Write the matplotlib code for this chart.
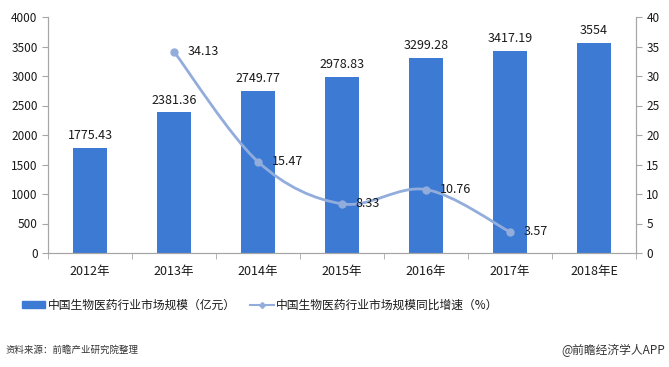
import numpy as np
import matplotlib.pyplot as plt
from matplotlib.path import Path
from matplotlib.patches import PathPatch, Patch
from matplotlib.lines import Line2D

plt.rcParams['font.family'] = ['Noto Sans CJK SC', 'DejaVu Sans']

# data
years = ['2012年', '2013年', '2014年', '2015年', '2016年', '2017年', '2018年E']
market = [1775.43, 2381.36, 2749.77, 2978.83, 3299.28, 3417.19, 3554]
market_labels = ['1775.43', '2381.36', '2749.77', '2978.83', '3299.28', '3417.19', '3554']
growth_idx = [1, 2, 3, 4, 5]
growth = [34.13, 15.47, 8.33, 10.76, 3.57]

bar_color = '#3C7AD3'
line_color = '#92ADDC'
axis_color = '#A6A6A6'
text_color = '#1a1a1a'

fig = plt.figure(figsize=(6.69, 3.67), dpi=100)
ax = fig.add_axes([48 / 669, 1 - 253 / 367, 588 / 669, 236 / 367])
ax2 = ax.twinx()

x = np.arange(len(years))
ax.bar(x, market, width=0.4, color=bar_color, zorder=2)
for xi, v, lab in zip(x, market, market_labels):
    ax.text(xi, v + 100, lab, ha='center', va='bottom', fontsize=9, color=text_color)

ax.set_xlim(-0.5, len(years) - 0.5)
ax.set_ylim(0, 4000)
ax.set_yticks(range(0, 4001, 500))
ax.set_xticks(x)
ax.set_xticklabels(years, fontsize=9, color=text_color)
ax.set_xticks(np.arange(-0.5, len(years), 1), minor=True)
ax.tick_params(axis='x', which='major', length=0, pad=9)
ax.tick_params(axis='x', which='minor', length=4, color=axis_color)
ax.tick_params(axis='y', length=4, color=axis_color, labelsize=8.5, labelcolor=text_color)

ax2.set_ylim(0, 40)
ax2.set_yticks(range(0, 41, 5))
ax2.tick_params(axis='y', length=4, color=axis_color, labelsize=8.5, labelcolor=text_color)

for a in (ax, ax2):
    a.spines['top'].set_visible(False)
    for s in ('left', 'right', 'bottom'):
        a.spines[s].set_color(axis_color)

# smoothed line (cubic bezier through the points)
gx = np.array(growth_idx, dtype=float)
gy = np.array(growth, dtype=float)
verts = [(gx[0], gy[0])]
codes = [Path.MOVETO]
t = 1 / 6
for i in range(len(gx) - 1):
    p0 = (gx[max(i - 1, 0)], gy[max(i - 1, 0)])
    p1 = (gx[i], gy[i])
    p2 = (gx[i + 1], gy[i + 1])
    p3 = (gx[min(i + 2, len(gx) - 1)], gy[min(i + 2, len(gy) - 1)])
    c1 = (p1[0] + (p2[0] - p0[0]) * t, p1[1] + (p2[1] - p0[1]) * t)
    c2 = (p2[0] - (p3[0] - p1[0]) * t, p2[1] - (p3[1] - p1[1]) * t)
    verts += [c1, c2, p2]
    codes += [Path.CURVE4] * 3
ax2.add_patch(PathPatch(Path(verts, codes), fill=False, edgecolor=line_color, lw=2, zorder=3))
ax2.plot(gx, gy, 'o', color=line_color, markersize=5, zorder=4)
for xi, v in zip(gx, gy):
    ax2.text(xi + 0.16, v, f'{v:.2f}', ha='left', va='center', fontsize=9, color=text_color)

# legend
handles = [Patch(color=bar_color),
           Line2D([0], [0], color=line_color, lw=1.5, marker='D', markersize=3)]
fig.legend(handles, ['中国生物医药行业市场规模（亿元）', '中国生物医药行业市场规模同比增速（%）'],
           loc='center', bbox_to_anchor=(260 / 669, 1 - 305 / 367), ncol=2, frameon=False,
           fontsize=8.5, handlelength=2.0, handleheight=0.6, columnspacing=1.2,
           handletextpad=0.2, labelcolor=text_color)

fig.text(5 / 669, 1 - 350 / 367, '资料来源：前瞻产业研究院整理', fontsize=6.8, style='italic',
         color='#333333', va='center', ha='left')
fig.text(665 / 669, 1 - 350 / 367, '@前瞻经济学人APP', fontsize=8.5, color='#333333',
         va='center', ha='right')

fig.savefig('out.png', dpi=100)
